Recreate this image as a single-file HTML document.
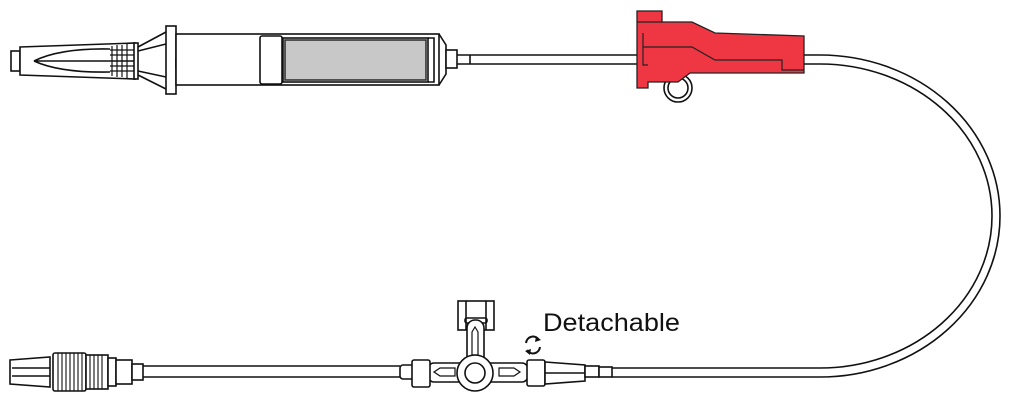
<!DOCTYPE html>
<html><head><meta charset="utf-8"><style>
html,body{margin:0;padding:0;background:#fff;}
svg{display:block;}
</style></head><body>
<svg width="1020" height="400" viewBox="0 0 1020 400" xmlns="http://www.w3.org/2000/svg" fill="none" stroke="#111" stroke-width="1.6">
<!-- tubing top -->
<line x1="457" y1="55" x2="640" y2="55"/><line x1="457" y1="64" x2="640" y2="64"/>
<line x1="470" y1="55" x2="470" y2="64"/>
<path d="M803 55 L820 55 A180 161 0 0 1 820 377 L612 377"/>
<path d="M803 64 L820 64 A172 152 0 0 1 820 368 L612 368"/>
<!-- spike -->
<rect x="11" y="51" width="9" height="20" fill="#fff"/>
<path d="M20 47 L135 43 L135 79 L20 75 Z" fill="#fff"/>
<path d="M34 61 Q60 48 110 49 M34 61 Q60 73 110 72 M34 61 L135 61"/>
<g stroke-width="1.2"><line x1="112" y1="46" x2="112" y2="76"/><line x1="117" y1="45" x2="117" y2="77"/><line x1="122" y1="45" x2="122" y2="77"/><line x1="127" y1="44" x2="127" y2="78"/><line x1="110" y1="50" x2="135" y2="50"/><line x1="110" y1="55" x2="135" y2="55"/><line x1="110" y1="66" x2="135" y2="66"/><line x1="110" y1="71" x2="135" y2="71"/></g>
<rect x="134" y="43" width="4" height="36" fill="#fff"/>
<path d="M138 47 L166 32 M138 51 L166 44 M138 71 L166 77 M138 75 L166 89"/>
<rect x="166" y="26" width="10" height="68" fill="#fff"/>
<rect x="176" y="59" width="3" height="8"/>
<!-- chamber -->
<rect x="176" y="34" width="263" height="51" fill="#fff"/>
<rect x="260" y="36" width="22" height="48" rx="2" fill="#fff"/>
<rect x="283" y="38" width="145" height="44" fill="#fff"/>
<rect x="285" y="40" width="141" height="40" fill="#c8c8c8" stroke="#333"/>
<path d="M428 38 L434 38 L434 82 L428 82"/>
<path d="M439 34 L446 45 L446 74 L439 85"/>
<rect x="446" y="50" width="11" height="18" fill="#fff"/>
<!-- red clamp -->
<circle cx="678" cy="88" r="14" fill="#fff"/><circle cx="678" cy="88" r="10"/>
<path d="M637 11 L662 11 L662 22 L692 22 L715 33 L804 36 L804 73 L690 73 L678 82 L648 82 L648 88 L637 88 Z" fill="#ef3744" stroke="#222" stroke-width="1.3"/>
<path d="M637 22 L662 22 M643 33 L643 65 L648 65 M643 47 L692 47 L715 60 L782 60 L782 70 L804 70" stroke="#222" stroke-width="1.2"/>
<!-- bottom tube -->
<line x1="143" y1="366" x2="400" y2="366"/><line x1="143" y1="377" x2="400" y2="377"/>
<!-- left luer -->
<path d="M10 360 L50 357 L50 387 L10 384 Z" fill="#fff"/>
<line x1="12" y1="368" x2="50" y2="368"/><line x1="12" y1="376" x2="50" y2="376"/>
<rect x="53" y="353" width="33" height="38" rx="2" fill="#fff"/>
<g stroke-width="1.1"><line x1="58" y1="353" x2="58" y2="391"/><line x1="62" y1="353" x2="62" y2="391"/><line x1="66" y1="353" x2="66" y2="391"/><line x1="70" y1="353" x2="70" y2="391"/><line x1="74" y1="353" x2="74" y2="391"/><line x1="78" y1="353" x2="78" y2="391"/><line x1="82" y1="353" x2="82" y2="391"/></g>
<rect x="86" y="355" width="22" height="34" fill="#fff"/>
<g stroke-width="1.1"><line x1="90" y1="355" x2="90" y2="389"/><line x1="94" y1="355" x2="94" y2="389"/><line x1="98" y1="355" x2="98" y2="389"/><line x1="102" y1="355" x2="102" y2="389"/></g>
<rect x="108" y="358" width="8" height="28" fill="#fff"/>
<rect x="116" y="360" width="16" height="24" fill="#fff"/>
<rect x="132" y="364" width="11" height="16" fill="#fff"/>
<!-- T connector -->
<rect x="458" y="301" width="36" height="29" fill="#fff"/>
<line x1="466" y1="301" x2="466" y2="330"/><line x1="486" y1="301" x2="486" y2="330"/>
<rect x="465" y="318" width="22" height="5" rx="2"/>
<rect x="467" y="320" width="17" height="45" rx="8" fill="#fff"/>
<path d="M475 327 L472 332 L472 355 L478 355 L478 332 Z" stroke-width="1.2"/>
<rect x="400" y="365" width="14" height="14" rx="3" fill="#fff"/>
<rect x="428" y="363" width="100" height="19" rx="6" fill="#fff"/>
<path d="M434 372 L440 368 L455 368 L455 376 L440 376 Z" stroke-width="1.2"/>
<path d="M520 372 L514 368 L499 368 L499 376 L514 376 Z" stroke-width="1.2"/>
<rect x="412" y="360" width="18" height="27" rx="2" fill="#fff"/>
<circle cx="475" cy="373" r="18" fill="#fff"/>
<circle cx="475" cy="373" r="10"/>
<rect x="527" y="360" width="18" height="26" rx="2" fill="#fff"/>
<path d="M545 362 L585 365 L585 381 L545 384 Z" fill="#fff"/>
<line x1="545" y1="373" x2="585" y2="373"/>
<rect x="585" y="366" width="14" height="11" fill="#fff"/>
<rect x="599" y="367" width="13" height="10" fill="#fff"/>
<!-- rotate icon -->
<path d="M526 343 A7 7 0 0 1 539 340" stroke-width="2"/>
<path d="M540 347 A7 7 0 0 1 527 350" stroke-width="2"/>
<path d="M536 336 L541 340 L535 342 Z" fill="#111" stroke="none"/>
<path d="M530 355 L525 351 L531 349 Z" fill="#111" stroke="none"/>
<text x="543" y="331" font-family="Liberation Sans, sans-serif" font-size="25" textLength="137" lengthAdjust="spacingAndGlyphs" fill="#111" stroke="none">Detachable</text>
</svg>
</body></html>
